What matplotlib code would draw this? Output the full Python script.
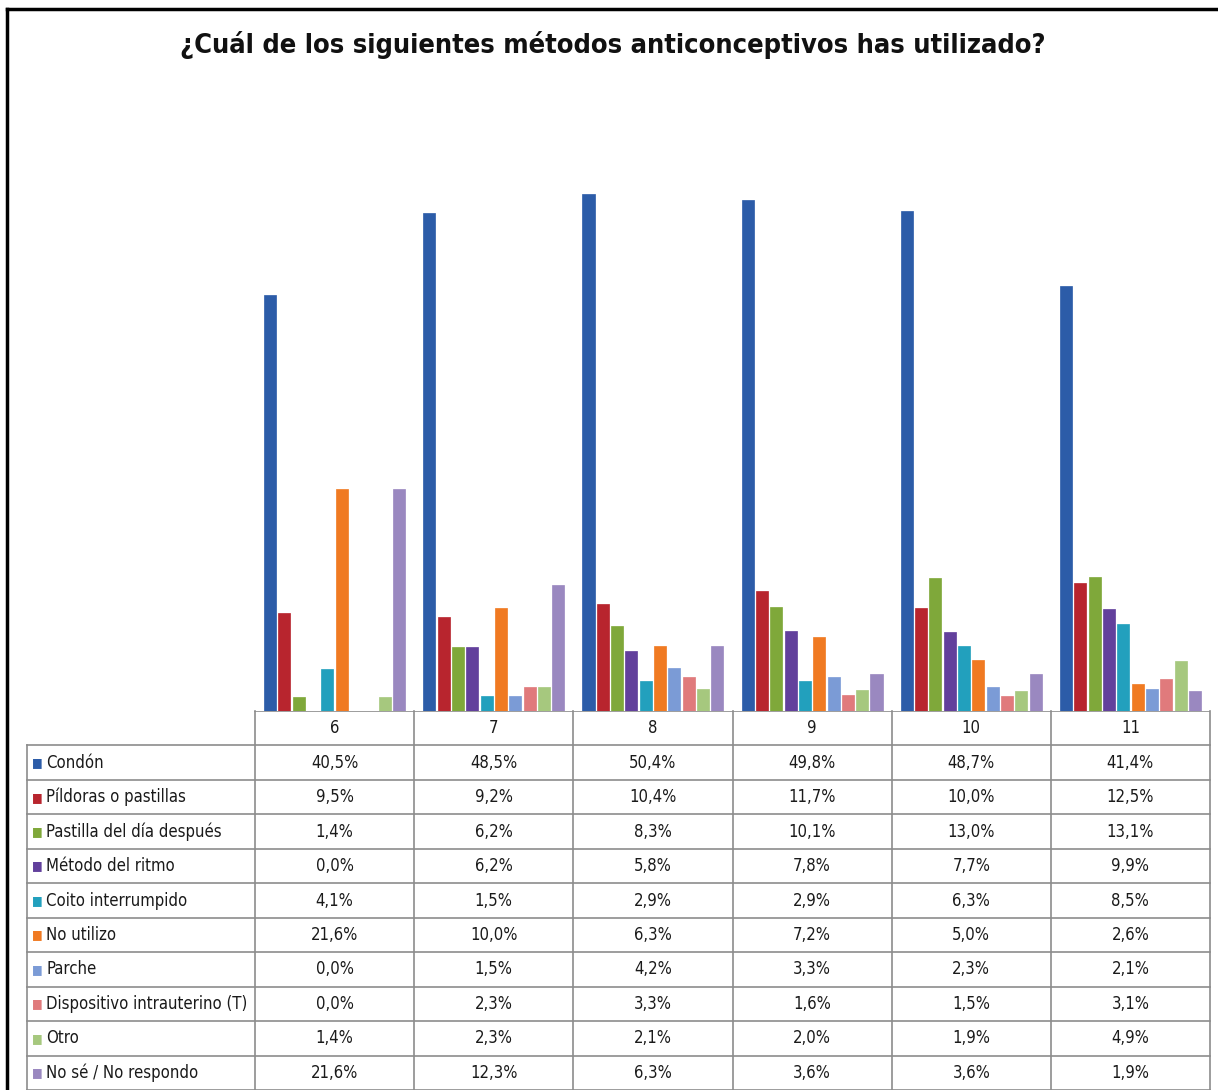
import numpy as np
import matplotlib
matplotlib.use('Agg')
import matplotlib.pyplot as plt
from matplotlib.lines import Line2D

plt.rcParams['font.family'] = ['DejaVu Sans']
plt.rcParams['font.stretch'] = 'condensed'

grados = ['6', '7', '8', '9', '10', '11']
metodos = ['Condón', 'Píldoras o pastillas', 'Pastilla del día después',
           'Método del ritmo', 'Coito interrumpido', 'No utilizo', 'Parche',
           'Dispositivo intrauterino (T)', 'Otro', 'No sé / No respondo']
condon = [40.5, 48.5, 50.4, 49.8, 48.7, 41.4]
pildoras = [9.5, 9.2, 10.4, 11.7, 10.0, 12.5]
pastilla = [1.4, 6.2, 8.3, 10.1, 13.0, 13.1]
ritmo = [0.0, 6.2, 5.8, 7.8, 7.7, 9.9]
coito = [4.1, 1.5, 2.9, 2.9, 6.3, 8.5]
no_utilizo = [21.6, 10.0, 6.3, 7.2, 5.0, 2.6]
parche = [0.0, 1.5, 4.2, 3.3, 2.3, 2.1]
diu = [0.0, 2.3, 3.3, 1.6, 1.5, 3.1]
otro = [1.4, 2.3, 2.1, 2.0, 1.9, 4.9]
no_se = [21.6, 12.3, 6.3, 3.6, 3.6, 1.9]
series = [condon, pildoras, pastilla, ritmo, coito, no_utilizo, parche, diu, otro, no_se]
colores = ['#2c5ca8', '#b8252e', '#7fa83a', '#62409c', '#22a0bd', '#f07a22',
           '#7b9bd6', '#e07a7c', '#a6c87e', '#9a88c0']

W, H = 1218, 1090
fig = plt.figure(figsize=(W / 100, H / 100), dpi=100)

def px(x0, y0, x1, y1):
    return [x0 / W, 1 - y1 / H, (x1 - x0) / W, (y1 - y0) / H]

# border of the picture
fig.add_artist(Line2D([7 / W, 7 / W], [0, 1 - 9 / H], color='black', lw=2.5))
fig.add_artist(Line2D([7 / W, 1], [1 - 9 / H, 1 - 9 / H], color='black', lw=2.5))

fig.text(613 / W, 1 - 45 / H, '¿Cuál de los siguientes métodos anticonceptivos has utilizado?',
         ha='center', va='center', fontsize=19.5, fontweight='bold', color='#111111')

# bar chart
ax = fig.add_axes(px(255, 95, 1210, 711))
n = len(series)
slot = 0.09
bw = 0.076
x = np.arange(len(grados))
for i, (vals, c) in enumerate(zip(series, colores)):
    ax.bar(x + (i - (n - 1) / 2) * slot, vals, bw, color=c, edgecolor=c, lw=0.5)
ax.set_xlim(-0.5, 5.5)
ax.set_ylim(0, 60)
ax.axis('off')

# data table
label_w = (255 - 27) / (1210 - 255) * 6
tab = fig.add_axes(px(27, 711, 1210, 1090))
tab.set_xlim(-0.5 - label_w, 5.5)
tab.set_ylim(11, 0)
tab.axis('off')
gc = '#8c8c8c'
tab.plot([-0.5, 5.5], [0, 0], color=gc, lw=1.2)
for r in range(1, 12):
    tab.plot([-0.5 - label_w, 5.5], [r, r], color=gc, lw=1.2, clip_on=False)
for k in range(7):
    tab.plot([k - 0.5, k - 0.5], [0, 11], color=gc, lw=1.2, clip_on=False)
tab.plot([-0.5 - label_w, -0.5 - label_w], [1, 11], color=gc, lw=1.2, clip_on=False)

fs = 12
tc = '#1a1a1a'
for j, g in enumerate(grados):
    tab.text(j, 0.5, g, ha='center', va='center', fontsize=fs, color=tc)
for i, (m, vals, c) in enumerate(zip(metodos, series, colores)):
    y = i + 1.5
    tab.text(-0.5 - label_w + 0.03, y, '\u25a0', color=c, ha='left', va='center', fontsize=9)
    tab.text(-0.5 - label_w + 0.12, y, m, ha='left', va='center', fontsize=fs, color=tc)
    for j, v in enumerate(vals):
        tab.text(j, y, f'{v:.1f}%'.replace('.', ','), ha='center', va='center',
                 fontsize=fs, color=tc)

fig.savefig('out.png', dpi=100)
